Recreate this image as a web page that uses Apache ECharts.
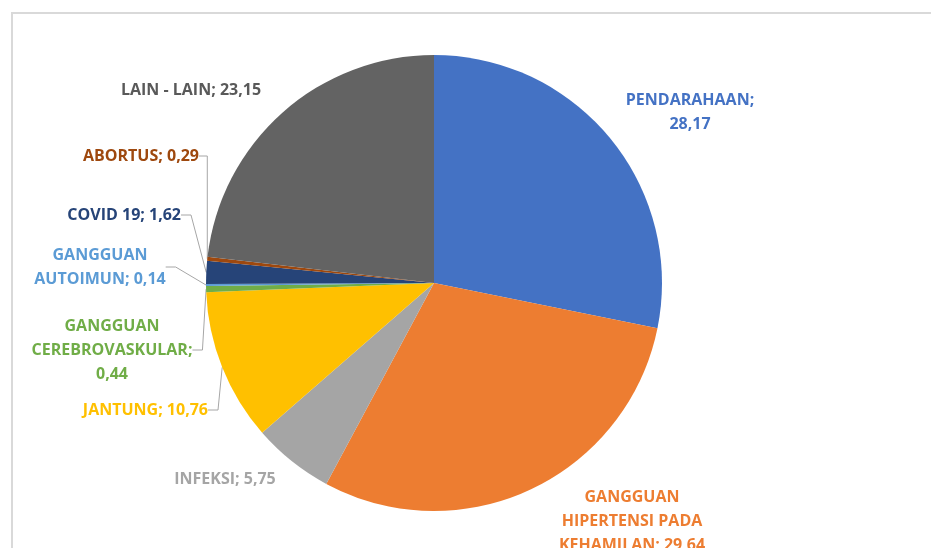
<!DOCTYPE html>
<html>
<head>
<meta charset="utf-8">
<script src="https://cdn.jsdelivr.net/npm/echarts@6/dist/echarts.min.js"></script>
<style>
  html, body { margin: 0; padding: 0; background: #fff; }
  #frame { position: absolute; left: 11px; top: 12px; right: -5px; bottom: -5px; border: 2px solid #d9d9d9; }
  #chart { width: 931px; height: 548px; position: absolute; left: 0; top: 0; }
</style>
</head>
<body>
<div id="frame"></div>
<div id="chart"></div>
<script>
const causes = [
    'PENDARAHAAN',
    'GANGGUAN HIPERTENSI PADA KEHAMILAN',
    'INFEKSI',
    'JANTUNG',
    'GANGGUAN CEREBROVASKULAR',
    'GANGGUAN AUTOIMUN',
    'COVID 19',
    'ABORTUS',
    'LAIN - LAIN'
]
const percents = [28.17, 29.64, 5.75, 10.76, 0.44, 0.14, 1.62, 0.29, 23.15]
const colors = ['#4472c4', '#ed7d31', '#a5a5a5', '#ffc000', '#70ad47', '#5b9bd5', '#264478', '#9e480e', '#636363']
const labelColors = ['#4472c4', '#ed7d31', '#a5a5a5', '#ffc000', '#70ad47', '#5b9bd5', '#264478', '#9e480e', '#595959']

// where Excel put each label, and how it wrapped the text
const labelSpots = [
    { x: 690, y: 112, align: 'center', lines: [1], valueOwnLine: true },
    { x: 632, y: 521, align: 'center', lines: [1, 2], valueOwnLine: false },
    { x: 225, y: 479, align: 'center', lines: [], valueOwnLine: false },
    { x: 208, y: 410, align: 'right', lines: [], valueOwnLine: false },
    { x: 112, y: 350, align: 'center', lines: [1], valueOwnLine: true },
    { x: 100, y: 267, align: 'center', lines: [1], valueOwnLine: false },
    { x: 181, y: 215, align: 'right', lines: [], valueOwnLine: false },
    { x: 199, y: 156, align: 'right', lines: [], valueOwnLine: false },
    { x: 191, y: 90, align: 'center', lines: [], valueOwnLine: false }
]
const showLeader = [false, false, false, true, true, true, true, true, false]

function labelText(i) {
    const words = causes[i].split(' ')
    const spot = labelSpots[i]
    const out = []
    let k = 0
    spot.lines.forEach(n => { out.push(words.slice(k, k + n).join(' ')); k += n })
    const rest = words.slice(k).join(' ')
    const val = percents[i].toFixed(2).replace('.', ',')
    if (spot.valueOwnLine) {
        if (rest) out.push(rest + ';')
        else out[out.length - 1] += ';'
        out.push(val)
    } else {
        out.push(rest + '; ' + val)
    }
    return out.join('\n')
}

const chart = echarts.init(document.getElementById('chart'))

chart.setOption({
    animation: false,
    series: [{
        type: 'pie',
        center: [434, 283],
        radius: 228,
        startAngle: 90,
        clockwise: true,
        label: {
            show: true,
            position: 'outside',
            fontFamily: 'Open Sans',
            fontWeight: 'bold',
            fontSize: 16,
            lineHeight: 24,
            formatter: p => labelText(p.dataIndex)
        },
        labelLine: {
            length: 10,
            length2: 10,
            lineStyle: { color: '#a6a6a6', width: 1 }
        },
        labelLayout: params => {
            const s = labelSpots[params.dataIndex]
            return { x: s.x, y: s.y, align: s.align, verticalAlign: 'middle' }
        },
        data: causes.map((name, i) => ({
            name,
            value: percents[i],
            itemStyle: { color: colors[i] },
            label: { color: labelColors[i] },
            labelLine: { show: showLeader[i] }
        }))
    }]
})
</script>
</body>
</html>
